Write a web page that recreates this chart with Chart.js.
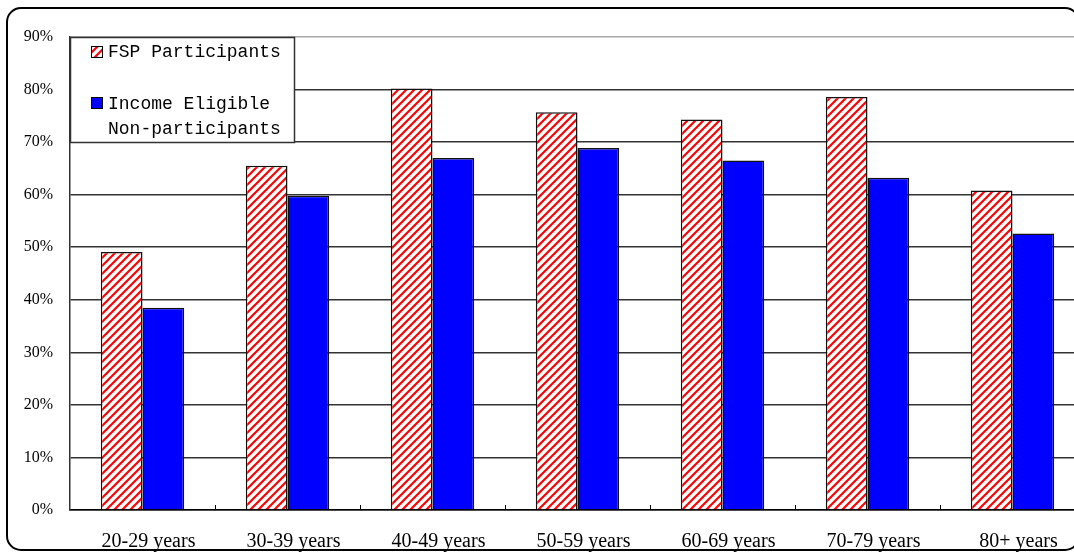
<!DOCTYPE html>
<html>
<head>
<meta charset="utf-8">
<script src="https://cdn.jsdelivr.net/npm/chart.js@4/dist/chart.umd.min.js"></script>
<style>
  html, body { margin: 0; padding: 0; background: #fff; overflow: hidden; }
</style>
</head>
<body>
<canvas id="ageChart" width="1100" height="557"></canvas>
<script>
// ===== Data =====
const ageGroups = ['20-29 years', '30-39 years', '40-49 years', '50-59 years', '60-69 years', '70-79 years', '80+ years'];
const fspParticipants = [49.1, 65.5, 80.2, 75.7, 74.3, 78.6, 60.8];
const eligibleNonParticipants = [38.5, 59.8, 67.0, 68.9, 66.5, 63.2, 52.6];
const seriesLabels = ['FSP Participants', ['Income Eligible', 'Non-participants']];
const yMax = 90;
const yStep = 10;

// red "/" hatching on white
function makeHatch() {
  const p = document.createElement('canvas');
  p.width = 8; p.height = 8;
  const c = p.getContext('2d');
  c.fillStyle = '#fff';
  c.fillRect(0, 0, 8, 8);
  c.strokeStyle = '#ff0000';
  c.lineWidth = 2.2;
  c.beginPath();
  c.moveTo(-2, 10); c.lineTo(10, -2);
  c.moveTo(-6, 6); c.lineTo(6, -6);
  c.moveTo(2, 14); c.lineTo(14, 2);
  c.stroke();
  return c.createPattern(p, 'repeat');
}

const ctx = document.getElementById('ageChart');
const hatch = makeHatch();

// rounded frame behind the chart
const framePlugin = {
  id: 'frame',
  beforeDraw(chart) {
    const c = chart.ctx;
    c.save();
    c.fillStyle = '#fff';
    c.fillRect(0, 0, chart.width, chart.height);
    c.strokeStyle = '#000';
    c.lineWidth = 2;
    c.beginPath();
    c.roundRect(7, 8, 1072, 542, 14);
    c.stroke();
    c.restore();
  }
};

// small tick marks between categories + legend box
const extrasPlugin = {
  id: 'extras',
  afterDraw(chart) {
    const c = chart.ctx;
    const x = chart.scales.x;
    const area = chart.chartArea;
    const step = x.getPixelForValue(1) - x.getPixelForValue(0);
    c.save();
    c.strokeStyle = '#000';
    c.lineWidth = 1;
    c.beginPath();
    for (let i = 1; i < ageGroups.length; i++) {
      const px = Math.round(x.getPixelForValue(i) - step / 2) + 0.5;
      c.moveTo(px, area.bottom);
      c.lineTo(px, area.bottom - 5);
    }
    c.stroke();

    // legend
    c.fillStyle = '#fff';
    c.fillRect(70, 37, 224, 105);
    c.strokeStyle = '#333';
    c.lineWidth = 1.5;
    c.strokeRect(70.5, 37.5, 224, 105);

    c.font = '18px "Liberation Mono"';
    c.textBaseline = 'middle';
    const ds = chart.data.datasets;
    // entry 1
    c.fillStyle = ds[0].backgroundColor;
    c.fillRect(91, 46, 12, 12);
    c.strokeStyle = '#000';
    c.lineWidth = 1;
    c.strokeRect(91.5, 46.5, 11, 11);
    c.fillStyle = '#000';
    c.fillText(ds[0].label, 108, 52);
    // entry 2
    c.fillStyle = ds[1].backgroundColor;
    c.fillRect(91, 97, 12, 12);
    c.strokeRect(91.5, 97.5, 11, 11);
    c.fillStyle = '#000';
    seriesLabels[1].forEach((t, i) => c.fillText(t, 108, 104 + i * 25));
    c.restore();
  }
};

new Chart(ctx, {
  type: 'bar',
  data: {
    labels: ageGroups,
    datasets: [
      {
        label: seriesLabels[0],
        data: fspParticipants,
        backgroundColor: hatch,
        borderColor: '#111',
        borderWidth: 1.5,
        categoryPercentage: 0.575,
        barPercentage: 1.0
      },
      {
        label: seriesLabels[1].join(' '),
        data: eligibleNonParticipants,
        backgroundColor: '#0000ff',
        borderColor: '#111',
        borderWidth: 1.5,
        categoryPercentage: 0.575,
        barPercentage: 1.0
      }
    ]
  },
  options: {
    responsive: false,
    animation: false,
    layout: { padding: { top: 37, right: 15, left: 0, bottom: 0 } },
    plugins: {
      legend: { display: false },
      tooltip: { enabled: false }
    },
    scales: {
      x: {
        afterFit(scale) { scale.height = 47; },
        grid: { display: false },
        border: { display: true, color: '#000', width: 1.5 },
        ticks: {
          color: '#000',
          padding: 12,
          labelOffset: 6,
          maxRotation: 0,
          font: { family: '"Liberation Serif"', size: 20 }
        }
      },
      y: {
        min: 0,
        max: yMax,
        afterFit(scale) { scale.width = 70; },
        grid: {
          drawTicks: false,
          color: c => (c.tick && c.tick.value === yMax) ? '#aaa' : '#333',
          lineWidth: 1.5
        },
        border: { display: true, color: '#333', width: 1.5 },
        ticks: {
          stepSize: yStep,
          padding: 17,
          color: '#000',
          font: { family: '"Liberation Serif"', size: 16 },
          callback: v => v + '%'
        }
      }
    }
  },
  plugins: [framePlugin, extrasPlugin]
});
</script>
</body>
</html>
